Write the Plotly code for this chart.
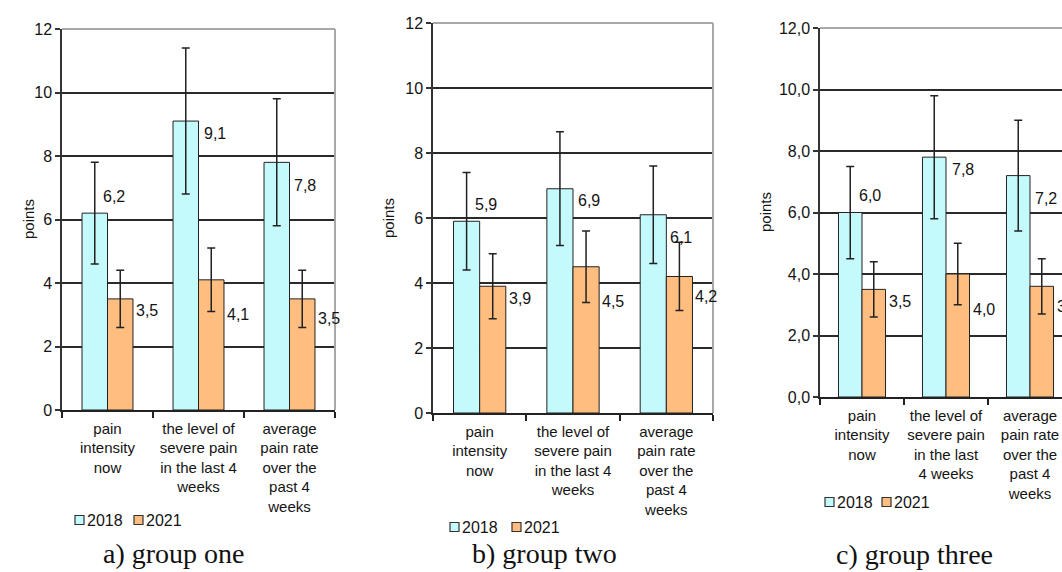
import plotly.graph_objects as go

# ---------------- data ----------------
categories_ab = ["pain<br>intensity<br>now",
                 "the level of<br>severe pain<br>in the last 4<br>weeks",
                 "average<br>pain rate<br>over the<br>past 4<br>weeks"]
categories_c = ["pain<br>intensity<br>now",
                "the level of<br>severe pain<br>in the last<br>4 weeks",
                "average<br>pain rate<br>over the<br>past 4<br>weeks"]

years = ["2018", "2021"]

g1_2018 = [6.2, 9.1, 7.8]
g1_2021 = [3.5, 4.1, 3.5]
g1_err_2018 = [1.6, 2.3, 2.0]
g1_err_2021 = [0.9, 1.0, 0.9]

g2_2018 = [5.9, 6.9, 6.1]
g2_2021 = [3.9, 4.5, 4.2]
g2_err_2018 = [1.5, 1.75, 1.5]
g2_err_2021 = [1.0, 1.1, 1.05]

g3_2018 = [6.0, 7.8, 7.2]
g3_2021 = [3.5, 4.0, 3.6]
g3_err_2018 = [1.5, 2.0, 1.8]
g3_err_2021 = [0.9, 1.0, 0.9]

captions = ["a) group one", "b) group two", "c) group three"]

# ---------------- layout helpers ----------------
W, H = 1062, 572
def px(x):
    return x / W
def py(y):
    return 1 - y / H

C18 = "#c4fafc"
C21 = "#ffbe80"
TXT = "#141414"
FONT = "Liberation Sans, Arial, sans-serif"

# plot areas in pixels: (left, right, top, bottom)
panels = [
    dict(l=62, r=335, t=29, b=410, xmax=2.5, tickfmt="d", cats=categories_ab,
         v18=g1_2018, v21=g1_2021, e18=g1_err_2018, e21=g1_err_2021, leg=(75, 520, 59), cap=(174, 553)),
    dict(l=433, r=713, t=23, b=413, xmax=2.5, tickfmt="d", cats=categories_ab,
         v18=g2_2018, v21=g2_2021, e18=g2_err_2018, e21=g2_err_2021, leg=(450, 527, 62), cap=(544, 553)),
    dict(l=820, r=1062, t=28, b=397, xmax=-0.5 + 242 / 84, tickfmt=".1f", cats=categories_c,
         v18=g3_2018, v21=g3_2021, e18=g3_err_2018, e21=g3_err_2021, leg=(825, 502, 57), cap=(914, 554)),
]

# label placement (pixel shifts) per category position
lab18_dx = [6.5, 16, 15]
lab18_dy = [17, -12, -23]
lab21_dx = [1, 1, 1]
lab21_dy = [-12, -35, -20]

BARW = 0.28  # in category units (bargap 0.44)

fig = go.Figure()
annotations = []
shapes = []

for i, p in enumerate(panels):
    n = "" if i == 0 else str(i + 1)
    xa, ya = "x" + n, "y" + n
    for yr, vals, errs, col in [(years[0], p["v18"], p["e18"], C18),
                                 (years[1], p["v21"], p["e21"], C21)]:
        fig.add_trace(go.Bar(
            x=p["cats"], y=vals, name=yr, xaxis=xa, yaxis=ya,
            marker=dict(color=col, line=dict(color="#222222", width=1)),
            error_y=dict(type="data", array=errs, visible=True, color="#222222",
                         thickness=1.5, width=4),
            showlegend=False, cliponaxis=False,
        ))
    xaxis = dict(domain=[px(p["l"]), px(p["r"])], anchor=ya, type="category",
                 range=[-0.5, p["xmax"]], showline=True, linecolor="#222222", linewidth=1.5,
                 ticks="outside", tickson="boundaries", ticklen=6, tickcolor="#222222",
                 tickwidth=1.5, showgrid=False, tickangle=0, automargin=False,
                 tickfont=dict(family=FONT, size=15, color=TXT),
                 ticklabelstandoff=4, fixedrange=True)
    yaxis = dict(domain=[py(p["b"]), py(p["t"])], anchor=xa, range=[0, 12], dtick=2,
                 tickformat=p["tickfmt"], showline=True, linecolor="#333333", linewidth=1.5,
                 ticks="outside", ticklen=5, tickcolor="#333333", tickwidth=1.5,
                 showgrid=True, gridcolor="#2a2a2a", gridwidth=1.5, zeroline=False,
                 automargin=False,
                 tickfont=dict(family=FONT, size=16, color=TXT), fixedrange=True)
    fig.update_layout(**{"xaxis" + n: xaxis, "yaxis" + n: yaxis})

    # top / right gray borders
    shapes.append(dict(type="line", xref=xa + " domain", yref=ya + " domain",
                       x0=0, x1=1, y0=1, y1=1, line=dict(color="#a8a8a8", width=2), layer="above"))
    if i < 2:
        shapes.append(dict(type="line", xref=xa + " domain", yref=ya + " domain",
                           x0=1, x1=1, y0=0, y1=1, line=dict(color="#a8a8a8", width=2), layer="above"))

    # value labels
    for k in range(3):
        annotations.append(dict(x=k - BARW / 2, y=p["v18"][k], xref=xa, yref=ya,
                                text=f"{p['v18'][k]:.1f}".replace(".", ","), showarrow=False,
                                xanchor="left", yanchor="middle", xshift=lab18_dx[k], yshift=lab18_dy[k],
                                font=dict(family=FONT, size=16, color=TXT)))
        annotations.append(dict(x=k + BARW, y=p["v21"][k], xref=xa, yref=ya,
                                text=f"{p['v21'][k]:.1f}".replace(".", ","), showarrow=False,
                                xanchor="left", yanchor="middle", xshift=lab21_dx[k], yshift=lab21_dy[k],
                                font=dict(family=FONT, size=16, color=TXT)))

    # y-axis title
    annotations.append(dict(x=px(p["l"] - 44), y=py((p["t"] + p["b"]) / 2), xref="paper", yref="paper",
                            text="points", textangle=-90, showarrow=False,
                            font=dict(family=FONT, size=15, color=TXT)))

    # manual legend
    lx, ly, step = p["leg"]
    for j, (yr, col) in enumerate([(years[0], C18), (years[1], C21)]):
        sx = lx + j * step
        shapes.append(dict(type="rect", xref="paper", yref="paper",
                           x0=px(sx), x1=px(sx + 9), y0=py(ly + 4.5), y1=py(ly - 4.5),
                           fillcolor=col, line=dict(color="#333333", width=1.2)))
        annotations.append(dict(x=px(sx + 10), y=py(ly), xref="paper", yref="paper",
                                text=yr, showarrow=False, xanchor="left", yanchor="middle",
                                font=dict(family=FONT, size=16, color=TXT)))

    # caption
    cx, cy = p["cap"]
    annotations.append(dict(x=px(cx), y=py(cy), xref="paper", yref="paper", text=captions[i],
                            showarrow=False, xanchor="center", yanchor="middle",
                            font=dict(family="Liberation Serif, Times New Roman, serif", size=28,
                                      color="#111111")))

fig.update_layout(
    width=W, height=H, margin=dict(l=0, r=0, t=0, b=0),
    paper_bgcolor="white", plot_bgcolor="white",
    barmode="group", bargap=0.44, bargroupgap=0,
    separators=", ", showlegend=False,
    annotations=annotations, shapes=shapes,
)

fig.write_html("out.html", config={"displayModeBar": False},
               post_script="document.body.style.margin='0';document.body.style.overflow='hidden';")
